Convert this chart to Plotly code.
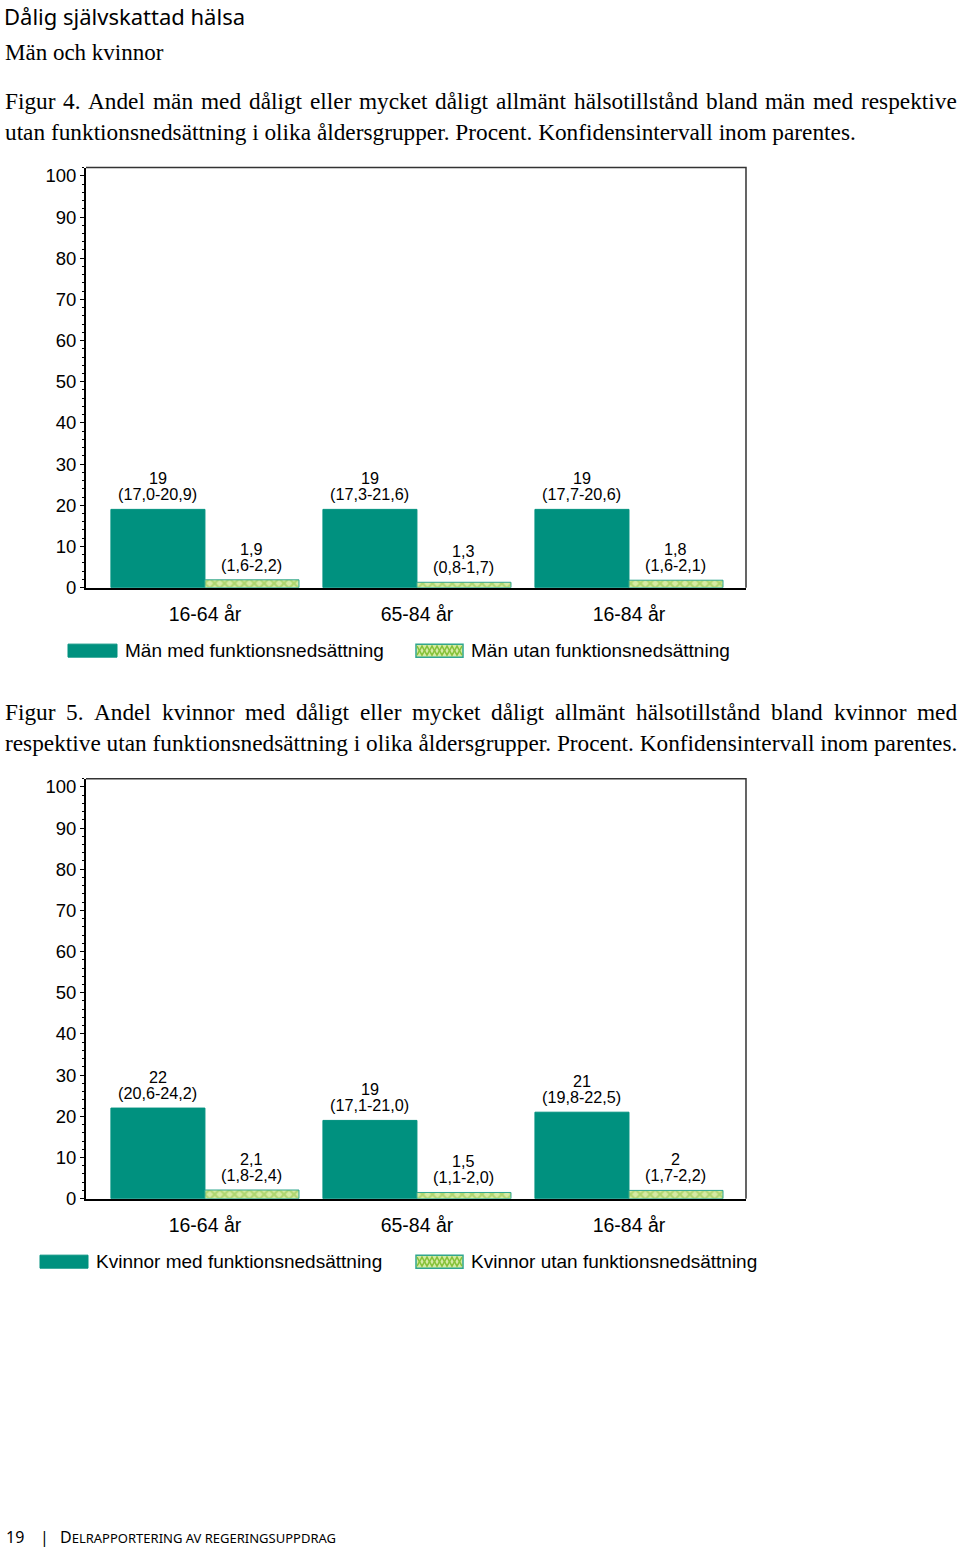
import plotly.graph_objects as go

# ---------------- data ----------------
categories = ["16-64 år", "65-84 år", "16-84 år"]

men_with = [19, 19, 19]
men_with_ci = ["17,0-20,9", "17,3-21,6", "17,7-20,6"]
men_without = [1.9, 1.3, 1.8]
men_without_ci = ["1,6-2,2", "0,8-1,7", "1,6-2,1"]

women_with = [22, 19, 21]
women_with_ci = ["20,6-24,2", "17,1-21,0", "19,8-22,5"]
women_without = [2.1, 1.5, 2.0]
women_without_ci = ["1,8-2,4", "1,1-2,0", "1,7-2,2"]

y_ticks = [0, 10, 20, 30, 40, 50, 60, 70, 80, 90, 100]

legend_men = ["Män med funktionsnedsättning", "Män utan funktionsnedsättning"]
legend_women = ["Kvinnor med funktionsnedsättning", "Kvinnor utan funktionsnedsättning"]

title_text = "Dålig självskattad hälsa"
subtitle_text = "Män och kvinnor"
cap4 = ["Figur 4. Andel män med dåligt eller mycket dåligt allmänt hälsotillstånd bland män med respektive",
        "utan funktionsnedsättning i olika åldersgrupper. Procent. Konfidensintervall inom parentes."]
cap5 = ["Figur 5. Andel kvinnor med dåligt eller mycket dåligt allmänt hälsotillstånd bland kvinnor med",
        "respektive utan funktionsnedsättning i olika åldersgrupper. Procent. Konfidensintervall inom parentes."]

# ---------------- style ----------------
W, H = 960, 1548
TEAL = "#00917f"
GREEN_FG = "#86c23a"
GREEN_BG = "#d6eaa4"
BORDER2 = "#2fa68f"
FRAME = "#333333"
SANS = "Liberation Sans, Arial, sans-serif"
SERIF = "Liberation Serif, Times New Roman, serif"
HUM = "Noto Sans, DejaVu Sans, sans-serif"

# small vertical correction for the rendering pipeline
VS, VO = 0.9922, 1.4


def px(x):
    return x / W


def py(y):
    return 1 - ((y - VO) / VS) / H


def fmt(v):
    return ("%g" % v).replace(".", ",")


# Times / Liberation Serif advance widths (per 1000 em) for justification
TW = dict(zip("abcdefghijklmnopqrstuvwxyz",
              [444, 500, 444, 500, 444, 333, 500, 500, 278, 278, 500, 278, 778,
               500, 500, 500, 500, 333, 389, 278, 500, 500, 722, 500, 500, 444]))
TW.update({"å": 444, "ä": 444, "ö": 500, "A": 722, "F": 556, "K": 722, "P": 556,
           ".": 250, " ": 250, "-": 333})
for d in "0123456789":
    TW[d] = 500


def word_w(word, size):
    return sum(TW.get(ch, 500) for ch in word) * size / 1000


fig = go.Figure()
ann = []
shapes = []

panels = [
    (men_with, men_with_ci, men_without, men_without_ci, "x", "y"),
    (women_with, women_with_ci, women_without, women_without_ci, "x2", "y2"),
]
for w, wci, wo, woci, xa, ya in panels:
    fig.add_trace(go.Bar(
        x=categories, y=w, xaxis=xa, yaxis=ya,
        marker=dict(color=TEAL, line=dict(color=TEAL, width=1)),
        showlegend=False, hoverinfo="skip",
    ))
    fig.add_trace(go.Bar(
        x=categories, y=wo, xaxis=xa, yaxis=ya,
        marker=dict(color=GREEN_BG, line=dict(color=BORDER2, width=1),
                    pattern=dict(shape="x", fgcolor=GREEN_FG, bgcolor=GREEN_BG,
                                 size=7, solidity=0.5)),
        showlegend=False, hoverinfo="skip",
    ))
    for vals, cis, shift in ((w, wci, -47), (wo, woci, 47)):
        for c, v, ci in zip(categories, vals, cis):
            for s, ys in ((fmt(v), 31), (f"({ci})", 15)):
                ann.append(dict(x=c, y=v, xref=xa, yref=ya, text=s,
                                showarrow=False, xshift=shift, yshift=ys,
                                xanchor="center", yanchor="middle",
                                font=dict(family=SANS, size=16.2, color="black")))

xdom = [px(86), px(746)]
xr = [-0.561, 2.552]
ydom1 = [py(587), py(167)]
ydom2 = [py(1198), py(778)]
yr = [0, 102]

xaxis_common = dict(
    range=xr, showgrid=False, showline=True, linecolor="black", linewidth=2,
    ticks="", tickfont=dict(family=SANS, size=19.5, color="black"),
    ticklabelstandoff=8, fixedrange=True, zeroline=False,
)
yaxis_common = dict(
    range=yr, tickvals=y_ticks, showgrid=False, showline=True, linecolor="black",
    linewidth=2, ticks="outside", ticklen=4, tickcolor="black",
    tickwidth=1, tickfont=dict(family=SANS, size=18.5, color="black"),
    minor=dict(ticks="outside", ticklen=2, dtick=2, tickcolor="black", tickwidth=1),
    zeroline=False, fixedrange=True,
)

fig.update_layout(
    width=W, height=H,
    margin=dict(l=0, r=0, t=0, b=0),
    paper_bgcolor="white", plot_bgcolor="white",
    barmode="group", bargap=0.113, bargroupgap=0,
    showlegend=False,
    xaxis=dict(domain=xdom, anchor="y", **xaxis_common),
    yaxis=dict(domain=ydom1, anchor="x", **yaxis_common),
    xaxis2=dict(domain=xdom, anchor="y2", **xaxis_common),
    yaxis2=dict(domain=ydom2, anchor="x2", **yaxis_common),
)

# thin dark frame on top and right of each plot area
for xd, yd in ((xdom, ydom1), (xdom, ydom2)):
    shapes.append(dict(type="path", xref="paper", yref="paper",
                       path=f"M {xd[0]:.5f},{yd[1]:.5f} L {xd[1]:.5f},{yd[1]:.5f} L {xd[1]:.5f},{yd[0]:.5f}",
                       line=dict(color=FRAME, width=1.5)))


def text(x, y, s, size, family, xanchor="left", color="black"):
    ann.append(dict(x=px(x), y=py(y), xref="paper", yref="paper", text=s,
                    showarrow=False, xanchor=xanchor, yanchor="middle",
                    font=dict(family=family, size=size, color=color)))


def justified(line, y, size, x0=2.5, x1=955):
    words = line.split(" ")
    widths = [word_w(wd, size) for wd in words]
    gap = (x1 - x0 - sum(widths)) / (len(words) - 1)
    x = x0
    for wd, ww in zip(words, widths):
        text(x, y, wd, size, SERIF)
        x += ww + gap


CAP = 23.3

text(2, 15, title_text, 22, HUM)
text(2.5, 52, subtitle_text, 23, SERIF)

justified(cap4[0], 100.5, CAP)
text(2.5, 131.5, cap4[1], CAP, SERIF)
justified(cap5[0], 711.5, CAP)
text(2.5, 742.5, cap5[1], CAP, SERIF)


def legend(y, x_sw1, x_sw1_end, x_t1, x_sw2, x_sw2_end, x_t2, names):
    y0, y1 = y - 6.5, y + 6.5
    shapes.append(dict(type="rect", xref="paper", yref="paper",
                       x0=px(x_sw1), x1=px(x_sw1_end), y0=py(y1), y1=py(y0),
                       fillcolor=TEAL, line=dict(color=TEAL, width=1)))
    shapes.append(dict(type="rect", xref="paper", yref="paper",
                       x0=px(x_sw2), x1=px(x_sw2_end), y0=py(y1), y1=py(y0),
                       fillcolor=GREEN_BG, line=dict(color=BORDER2, width=1.5)))
    step = 5
    pts_a, pts_b = [], []
    xx = x_sw2 + 1
    i = 0
    while xx <= x_sw2_end - 1:
        ya = y0 + 2 if i % 2 == 0 else y1 - 2
        yb = y1 - 2 if i % 2 == 0 else y0 + 2
        pts_a.append((xx, ya))
        pts_b.append((xx, yb))
        xx += step
        i += 1
    for pts in (pts_a, pts_b):
        path = "M " + " L ".join(f"{px(a):.5f},{py(b):.5f}" for a, b in pts)
        shapes.append(dict(type="path", xref="paper", yref="paper", path=path,
                           line=dict(color=GREEN_FG, width=1.5)))
    text(x_t1, y, names[0], 19, SANS)
    text(x_t2, y, names[1], 19, SANS)


legend(650, 68, 117, 123, 416, 463, 469, legend_men)
legend(1261, 40, 88, 94, 416, 463, 469, legend_women)

# footer
text(4, 1536, "19", 16, HUM)
text(38, 1536, "|", 16, HUM)
text(58, 1536,
     "D<span style='font-size:13px'>ELRAPPORTERING AV REGERINGSUPPDRAG</span>",
     16, HUM)

fig.update_layout(annotations=ann, shapes=shapes)

fig.write_html("out.html", config={"displayModeBar": False},
               post_script="document.body.style.margin='0';document.body.style.overflow='hidden';")
